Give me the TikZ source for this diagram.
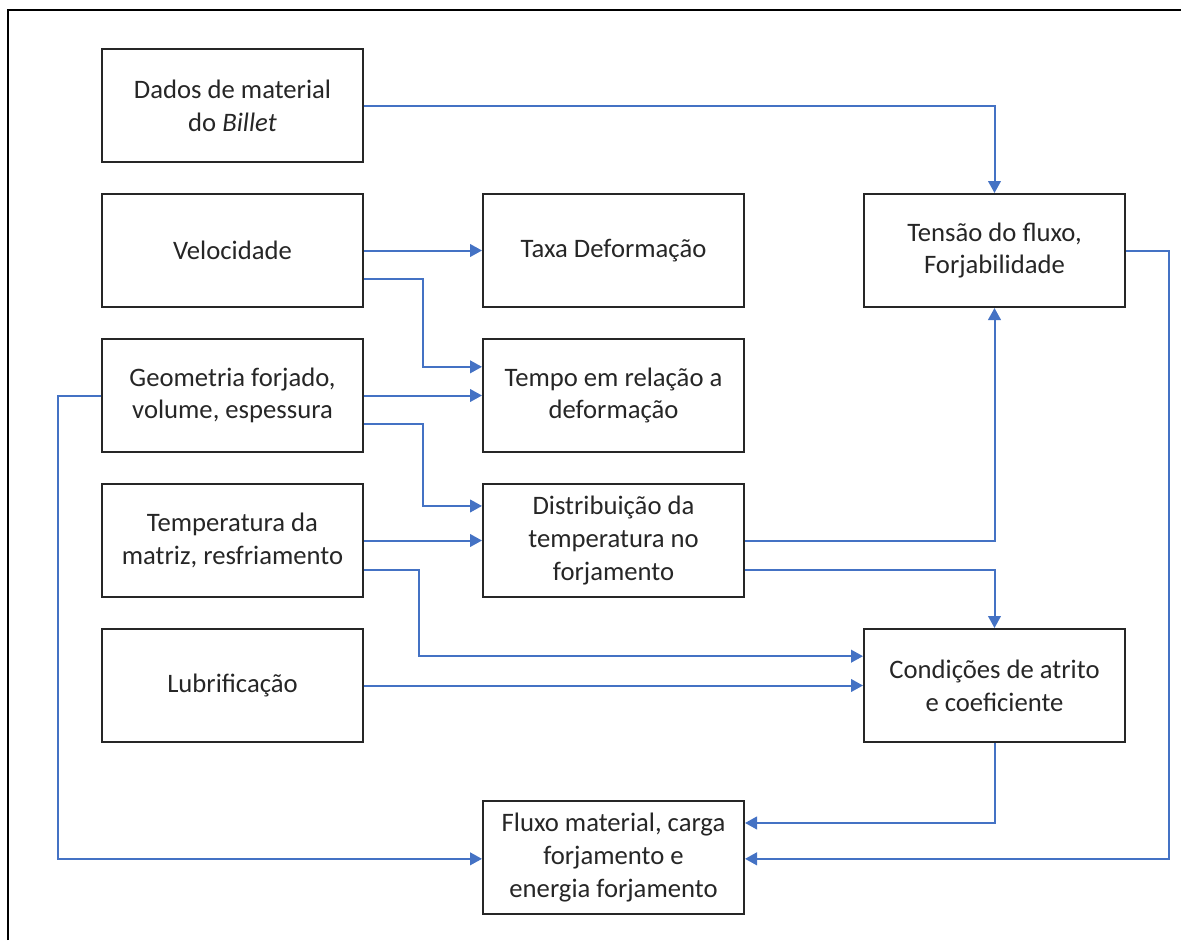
\documentclass[tikz,border=0pt]{standalone}
\usepackage{fontspec}
\setmainfont{Carlito}
\usetikzlibrary{positioning,calc,arrows.meta}
\definecolor{flowblue}{HTML}{4472C4}

\begin{document}
\begin{tikzpicture}[x=0.75pt,y=-0.75pt,
  box/.style={draw=black!85,line width=1.5pt,minimum width=195.75pt,minimum height=84.75pt,
    align=center,inner sep=2pt,text=black!85,font=\fontsize{20pt}{24.5pt}\selectfont},
  flow/.style={draw=flowblue,line width=1.5pt,-{Triangle[length=9pt,width=9.5pt]}},
  node distance=22.5pt and 88.5pt]
  \useasboundingbox (0,0) rectangle (1181,940);
  \draw[line width=1.5pt] (8,940) |- (1181,10);
  % left column
  \node[box] (dados) at (232.5,105.5) {Dados de material\\do \textit{Billet}};
  \node[box] (veloc) [below=of dados] {Velocidade};
  \node[box] (geom) [below=of veloc] {Geometria forjado,\\volume, espessura};
  \node[box] (temp) [below=of geom] {Temperatura da\\matriz, resfriamento};
  \node[box] (lubr) [below=of temp] {Lubrificação};
  % middle column
  \node[box] (taxa) [right=of veloc] {Taxa Deformação};
  \node[box] (tempo) [right=of geom] {Tempo em relação a\\deformação};
  \node[box] (dist) [right=of temp] {Distribuição da\\temperatura no\\forjamento};
  \coordinate (fl) at (lubr.south -| taxa.south);
  \node[box] (fluxo) [below=42.75pt of fl] {Fluxo material, carga\\forjamento e\\energia forjamento};
  % right column
  \node[box] (tensao) [right=of taxa] {Tensão do fluxo,\\Forjabilidade};
  \node[box] (cond) at (lubr -| tensao) {Condições de atrito\\e coeficiente};
  % connectors
  \coordinate (gapA) at ($(veloc.east)!.5!(taxa.west)$);
  \coordinate (gapB) at ($(temp.east)!.5!(dist.west)+(-3pt,0)$);
  \coordinate (inTempo) at ([yshift=21.5pt]tempo.west);
  \coordinate (inDist) at ([yshift=25.9pt]dist.west);
  \coordinate (inCond) at ([yshift=22pt]cond.west);
  \draw[flow] (dados.east) -| (tensao.north);
  \draw[flow] (veloc.east) -- (taxa.west);
  \draw[flow] ([yshift=-21.4pt]veloc.east) -| (gapA |- inTempo) -- (inTempo);
  \draw[flow] (geom.east) -- (tempo.west);
  \draw[flow] ([yshift=-21.4pt]geom.east) -| (gapA |- inDist) -- (inDist);
  \draw[flow] (temp.east) -- (dist.west);
  \draw[flow] ([yshift=-22pt]temp.east) -| (gapB |- inCond) -- (inCond);
  \draw[flow] (lubr.east) -- (cond.west);
  \draw[flow] (dist.east) -| (tensao.south);
  \draw[flow] ([yshift=-22pt]dist.east) -| (cond.north);
  \draw[flow] (cond.south) |- ([yshift=25.9pt]fluxo.east);
  \draw[flow] (tensao.east) -- ++(32.25pt,0) |- ([yshift=-1pt]fluxo.east);
  \draw[flow] (geom.west) -- ++(-32.25pt,0) |- ([yshift=-1pt]fluxo.west);
\end{tikzpicture}
\end{document}
